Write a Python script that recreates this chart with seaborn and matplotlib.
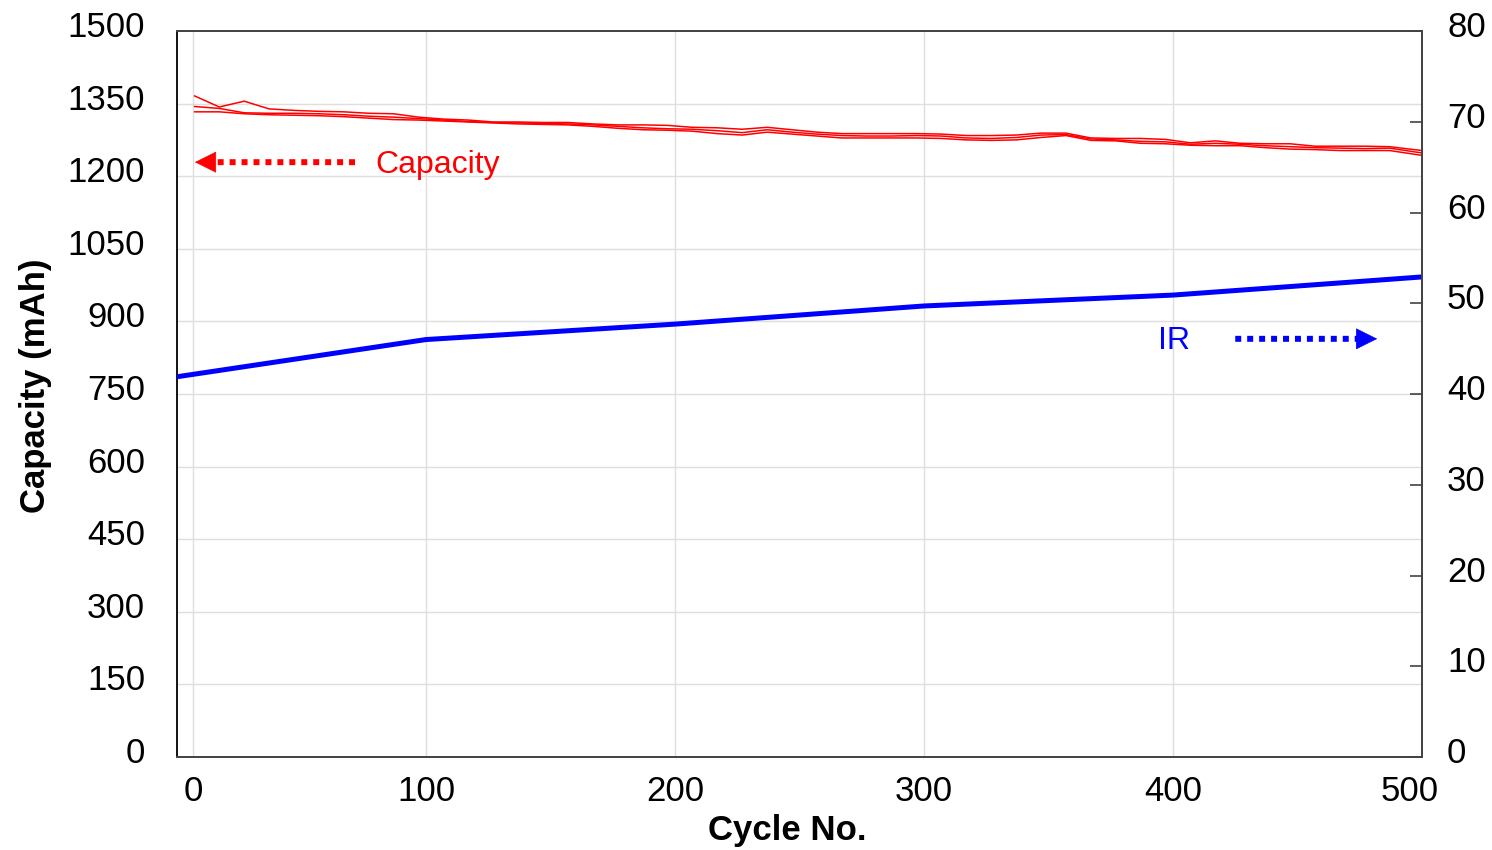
import numpy as np
import pandas as pd
import matplotlib
matplotlib.use('Agg')
import matplotlib.pyplot as plt
import matplotlib.transforms as mtransforms
import seaborn as sns

# cycle numbers for the capacity curves (3 cells)
cycles = [7, 17, 27, 37, 47, 57, 67, 77, 87, 97,
          107, 117, 127, 137, 147, 157, 167, 177, 187, 197,
          207, 217, 227, 237, 247, 257, 267, 277, 287, 297,
          307, 317, 327, 337, 347, 357, 367, 377, 387, 397,
          407, 417, 427, 437, 447, 457, 467, 477, 487, 500]

cap_1 = [1366, 1343, 1355, 1339, 1336, 1334, 1333, 1330, 1329, 1322,
         1318, 1316, 1312, 1312, 1311, 1311, 1308, 1306, 1306, 1305,
         1301, 1300, 1297, 1301, 1296, 1291, 1288, 1288, 1288, 1288,
         1287, 1284, 1284, 1285, 1289, 1289, 1279, 1278, 1278, 1276,
         1269, 1273, 1268, 1267, 1267, 1262, 1262, 1262, 1261, 1253]
cap_2 = [1344, 1340, 1331, 1330, 1330, 1329, 1327, 1324, 1322, 1319,
         1316, 1313, 1311, 1310, 1309, 1308, 1306, 1303, 1300, 1298,
         1297, 1294, 1290, 1296, 1291, 1287, 1284, 1283, 1283, 1284,
         1283, 1279, 1278, 1280, 1285, 1286, 1277, 1275, 1272, 1271,
         1266, 1268, 1266, 1263, 1261, 1259, 1258, 1257, 1258, 1248]
cap_3 = [1333, 1333, 1329, 1327, 1326, 1325, 1323, 1320, 1317, 1316,
         1314, 1312, 1310, 1308, 1307, 1306, 1303, 1299, 1296, 1295,
         1293, 1288, 1285, 1291, 1287, 1283, 1279, 1279, 1279, 1279,
         1278, 1275, 1274, 1275, 1280, 1284, 1274, 1273, 1268, 1267,
         1264, 1263, 1263, 1259, 1256, 1255, 1253, 1253, 1253, 1243]

# internal resistance
ir_cycles = [0, 100, 200, 300, 400, 500]
ir_values = [41.9, 46.0, 47.7, 49.7, 50.9, 52.9]

# tick labels (the 0 / 500 labels sit slightly inside the frame, like the original)
x_tick_pos = [6.5, 100, 200, 300, 400, 495]
x_tick_lab = ['0', '100', '200', '300', '400', '500']
left_ticks = [0, 150, 300, 450, 600, 750, 900, 1050, 1200, 1350, 1500]
right_ticks = [0, 10, 20, 30, 40, 50, 60, 70, 80]

cap_df = pd.DataFrame({
    'Cycle': cycles * 3,
    'Capacity': cap_1 + cap_2 + cap_3,
    'Cell': ['c1'] * len(cycles) + ['c2'] * len(cycles) + ['c3'] * len(cycles),
})
ir_df = pd.DataFrame({'Cycle': ir_cycles, 'IR': ir_values})

sns.set_theme(style='white')
plt.rcParams['font.family'] = ['Liberation Sans', 'DejaVu Sans']

fig = plt.figure(figsize=(14.92, 8.5), dpi=100)
ax = fig.add_axes([177 / 1492, 1 - 757 / 850, (1422 - 177) / 1492, (757 - 31) / 850])
ax2 = ax.twinx()

sns.lineplot(data=cap_df, x='Cycle', y='Capacity', hue='Cell', estimator=None,
             palette=['#ff0000'] * 3, linewidth=1.1, legend=False, ax=ax)
sns.lineplot(data=ir_df, x='Cycle', y='IR', color='#0000ff', linewidth=3.6,
             legend=False, ax=ax2)

ax.set_xlim(0, 500)
ax.set_ylim(0, 1500)
ax2.set_ylim(0, 80)

ax.set_xticks(x_tick_pos)
ax.set_xticklabels(x_tick_lab)
ax.set_yticks(left_ticks)
ax.set_yticklabels([str(v) for v in left_ticks])
ax2.set_yticks(right_ticks)
ax2.set_yticklabels([str(v) for v in right_ticks])

# grid
ax.grid(True, color='#dedede', linewidth=1.0)
ax.get_xgridlines()[-1].set_visible(False)
ax.get_ygridlines()[0].set_visible(False)
ax.get_ygridlines()[-1].set_visible(False)
ax.set_axisbelow(True)

ax.tick_params(axis='x', length=0, pad=13, labelsize=25, colors='black')
ax.tick_params(axis='y', length=0, pad=23, labelsize=25, colors='black')
ax2.tick_params(axis='y', direction='in', length=8.6, width=1.1, color='#333333',
                pad=18, labelsize=25, labelcolor='black')

for sp in ['top', 'right', 'bottom']:
    ax.spines[sp].set_color('#444444')
    ax.spines[sp].set_linewidth(1.3)
    ax2.spines[sp].set_color('#444444')
    ax2.spines[sp].set_linewidth(1.3)
ax.spines['left'].set_color('black')
ax.spines['left'].set_linewidth(1.3)
ax2.spines['left'].set_visible(False)

# y labels sit a little above their ticks in the original
shift = mtransforms.ScaledTranslation(0, 7 / 100, fig.dpi_scale_trans)
for lab in ax.get_yticklabels() + ax2.get_yticklabels():
    lab.set_transform(lab.get_transform() + shift)

ax.set_xlabel('Cycle No.', fontsize=25, fontweight='bold', color='black')
ax.set_ylabel('Capacity (mAh)', fontsize=25, fontweight='bold', color='black')
ax.xaxis.set_label_coords(0.49, -0.078)
ax.yaxis.set_label_coords(-0.1, 0.512)
ax2.set_ylabel('')

# arrows pointing to the matching axis: dotted shaft + solid head
def side_arrow(x_tip, x_tail, y, colour, head_len):
    ax.annotate('', xy=(x_tip + head_len, y), xytext=(x_tail, y),
                arrowprops=dict(arrowstyle='-', color=colour, lw=4.3,
                                linestyle=(0, (1, 1)), shrinkA=0, shrinkB=0,
                                capstyle='butt'))
    ax.annotate('', xy=(x_tip, y), xytext=(x_tip + head_len * 1.05, y),
                arrowprops=dict(arrowstyle='-|>,head_length=0.4,head_width=0.2',
                                color=colour, lw=0.5, mutation_scale=36,
                                shrinkA=0, shrinkB=0))

side_arrow(7.2, 71.5, 1229, '#ff0000', 7.5)
ax.text(79.5, 1224, 'Capacity', color='#ff0000', fontsize=23, va='center', ha='left')

side_arrow(482, 425, 864, '#0000ff', -6.5)
ax.text(394, 860, 'IR', color='#0000ff', fontsize=23, va='center', ha='left')

plt.savefig('out.png', dpi=100)
